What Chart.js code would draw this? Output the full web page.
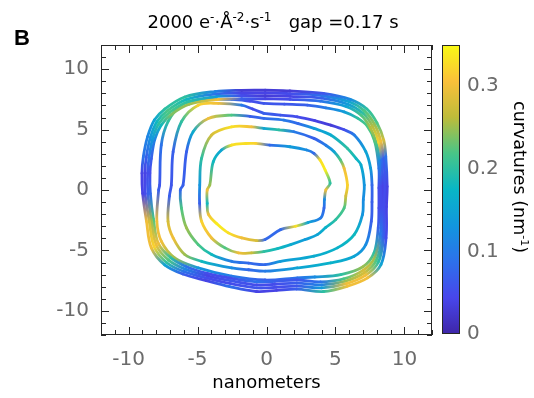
<!DOCTYPE html>
<html><head><meta charset="utf-8">
<script src="https://cdn.jsdelivr.net/npm/chart.js@4"></script>
<style>
html,body{margin:0;padding:0;background:#fff;}
#wrap{position:relative;width:534px;height:398px;overflow:hidden;}
#wrap canvas{position:absolute;left:0;top:0;}
</style></head><body>
<div id="wrap"><canvas id="main" width="534" height="398"></canvas><canvas id="cbar" width="534" height="398"></canvas></div>
<script>
// ---- data: contours as [x (nm), y (nm), curvature (nm^-1)] ----
const ring1 = [[-0.8,3.86,.32],[0.24,3.72,.08],[1.7,3.58,.14],[2.91,3.31,.12],[3.44,3.03,.08],[3.88,2.48,.33],[4.25,1.65,.34],[4.61,0.55,.2],[4.3,0.0,.3],[4.2,-0.8,.12],[4.17,-1.49,.08],[3.93,-2.31,.1],[3.0,-2.7,.15],[2.11,-3.0,.33],[1.02,-3.28,.08],[-0.1,-4.1,.08],[-0.73,-4.19,.28],[-1.8,-3.97,.3],[-2.77,-3.55,.33],[-3.6,-2.8,.34],[-4.22,-2.0,.3],[-4.3,-1.1,.18],[-4.3,0,.3],[-4.11,0.41,.25],[-3.86,2.34,.18],[-3.26,3.31,.15],[-2.53,3.72,.33],[-1.5,3.85,.33]];
const ring2 = [[-0.2,5.1,.15],[0.9,4.98,.2],[1.99,4.82,.1],[3.44,4.27,.07],[4.3,3.7,.1],[4.9,3.17,.15],[5.35,2.5,.22],[5.63,1.79,.3],[5.87,0.41,.32],[5.75,-0.5,.28],[5.63,-1.49,.22],[5.02,-2.45,.2],[4.3,-3.1,.17],[3.69,-3.69,.15],[2.8,-4.1,.14],[1.75,-4.52,.16],[0.8,-4.85,.18],[-0.2,-5.1,.2],[-1.1,-5.2,.27],[-2.04,-5.21,.3],[-3.01,-4.79,.22],[-3.98,-3.97,.3],[-4.71,-2.59,.32],[-4.85,-1.1,.07],[-4.84,0.41,.13],[-4.71,2.62,.2],[-3.98,4.55,.28],[-2.53,5.23,.33],[-1.07,5.23,.3]];
const ring3 = [[-0.2,5.93,.08],[1.26,5.79,.1],[2.3,5.5,.08],[3.44,5.1,.14],[4.66,4.55,.16],[5.87,3.44,.2],[6.5,2.6,.18],[6.85,2.07,.16],[7.09,0.41,.13],[7.02,-0.8,.12],[6.96,-2.04,.13],[6.36,-3.69,.18],[5.14,-4.79,.17],[3.44,-5.48,.16],[1.02,-5.9,.14],[-0.1,-6.17,.08],[-1.3,-6.05,.08],[-2.53,-5.9,.1],[-3.98,-5.34,.18],[-4.95,-4.52,.22],[-5.8,-3.14,.25],[-6.17,-1.49,.22],[-6.25,0,.08],[-6.05,0.41,.07],[-5.8,3.17,.07],[-5.32,4.82,.16],[-4.22,5.92,.3],[-2.53,6.2,.22],[-1.2,6.1,.07]];
const ring4 = [[-0.2,6.34,.07],[1.0,6.2,.06],[2.23,6.06,.05],[3.5,5.75,.04],[4.66,5.37,.03],[5.6,5.0,.05],[6.36,4.55,.1],[7.2,3.17,.15],[7.55,1.8,.14],[7.65,0.41,.08],[7.65,-1.0,.07],[7.6,-2.59,.07],[7.2,-4.52,.12],[6.36,-5.48,.15],[4.66,-6.03,.17],[2.23,-6.45,.15],[-0.1,-6.72,.1],[-1.3,-6.6,.08],[-2.53,-6.45,.12],[-4.71,-5.9,.18],[-5.93,-5.34,.25],[-6.77,-3.97,.3],[-7.14,-2.59,.28],[-7.04,-0.5,.07],[-6.9,0.41,.06],[-6.77,3.17,.07],[-6.17,5.65,.2],[-4.95,7.02,.32],[-3.5,7.17,.3],[-1.8,7.02,.1],[-1.0,6.7,.05]];
const ring5 = [[-0.2,7.17,.06],[1.3,7.1,.06],[2.96,7.02,.07],[4.3,6.8,.1],[5.63,6.47,.14],[6.6,5.95,.2],[7.3,5.3,.22],[7.85,4.0,.22],[8.15,1.79,.09],[8.15,0.17,.05],[8.15,-1.5,.05],[8.1,-3.14,.07],[7.8,-5.2,.2],[7.0,-6.35,.25],[5.39,-7.0,.2],[3.5,-7.2,.12],[2.23,-7.27,.09],[-0.1,-7.45,.07],[-2.53,-7.13,.1],[-4.95,-6.45,.13],[-6.66,-5.62,.25],[-7.63,-4.24,.3],[-7.95,-2.59,.3],[-7.82,0,.07],[-7.75,0.41,.06],[-7.63,3.72,.09],[-7.14,5.65,.2],[-6.17,7.0,.25],[-4.95,7.45,.22],[-2.53,7.5,.09],[-1.2,7.35,.05]];
const ring6 = [[-0.1,7.55,.04],[1.7,7.5,.05],[3.9,7.35,.09],[5.8,6.9,.15],[6.9,6.15,.22],[7.55,5.1,.26],[8.0,3.8,.22],[8.2,2.4,.12],[8.3,0.3,.05],[8.3,-1.4,.05],[8.25,-3.7,.1],[7.8,-5.7,.25],[7.0,-6.65,.28],[5.6,-7.35,.22],[3.9,-7.6,.09],[2.2,-7.45,.06],[0.6,-7.55,.07],[-0.7,-7.6,.09],[-2.6,-7.3,.05],[-4.3,-6.9,.05],[-5.8,-6.35,.09],[-6.95,-5.6,.2],[-7.85,-4.4,.3],[-8.2,-2.4,.22],[-8.42,-0.3,.08],[-8.45,1.4,.05],[-8.35,2.6,.07],[-8.1,4.2,.11],[-7.65,5.35,.18],[-6.9,6.25,.24],[-5.6,7.1,.25],[-3.5,7.5,.3],[-1.8,7.55,.07]];
const ring7 = [[-0.1,7.8,.03],[1.7,7.75,.04],[4.0,7.6,.07],[5.9,7.1,.14],[7.0,6.35,.2],[7.7,5.25,.26],[8.15,3.9,.32],[8.35,2.5,.09],[8.45,0.3,.04],[8.45,-1.4,.05],[8.4,-3.8,.09],[7.95,-5.85,.22],[7.1,-6.85,.28],[5.7,-7.55,.25],[4.0,-7.85,.11],[2.2,-7.7,.07],[0.6,-7.8,.05],[-0.7,-7.85,.05],[-2.6,-7.5,.06],[-4.3,-7.1,.04],[-5.9,-6.55,.11],[-7.1,-5.8,.22],[-8.0,-4.55,.3],[-8.35,-2.5,.25],[-8.6,-0.3,.07],[-8.62,1.4,.05],[-8.52,2.65,.09],[-8.25,4.3,.14],[-7.8,5.5,.2],[-7.05,6.4,.22],[-5.7,7.3,.2],[-3.6,7.75,.14],[-1.8,7.82,.05]];
const ring8 = [[-0.1,8.05,.04],[1.7,7.98,.05],[4.1,7.8,.09],[6.0,7.3,.15],[7.1,6.55,.22],[7.85,5.4,.25],[8.3,4.0,.3],[8.5,2.6,.07],[8.6,0.3,.05],[8.55,-1.4,.05],[8.5,-3.9,.07],[8.1,-6.0,.2],[7.2,-7.05,.3],[5.8,-7.75,.3],[4.0,-8.1,.14],[2.2,-7.95,.06],[0.7,-8.05,.05],[-0.7,-8.1,.06],[-2.6,-7.75,.05],[-4.3,-7.3,.05],[-6.0,-6.75,.09],[-7.25,-6.0,.2],[-8.15,-4.7,.32],[-8.5,-2.6,.28],[-8.8,-0.3,.05],[-8.82,1.4,.04],[-8.72,2.7,.07],[-8.42,4.35,.13],[-7.95,5.65,.18],[-7.2,6.55,.22],[-5.8,7.5,.18],[-3.7,7.95,.09],[-1.8,8.05,.04]];
const ring9 = [[-0.1,8.26,.03],[1.7,8.2,.03],[4.13,8.0,.06],[6.07,7.5,.12],[7.28,6.7,.2],[8.01,5.55,.22],[8.5,4.13,.28],[8.65,2.75,.09],[8.75,0.28,.04],[8.7,-1.38,.04],[8.67,-3.97,.05],[8.3,-6.17,.15],[7.33,-7.27,.3],[5.87,-7.96,.3],[4.13,-8.4,.2],[2.18,-8.2,.07],[0.73,-8.3,.04],[-0.73,-8.4,.04],[-2.67,-8.0,.09],[-4.37,-7.5,.04],[-6.07,-6.95,.07],[-7.38,-6.2,.15],[-8.35,-4.79,.3],[-8.7,-2.59,.3],[-8.98,-0.28,.04],[-9.03,1.38,.04],[-8.93,2.75,.09],[-8.62,4.41,.11],[-8.13,5.79,.15],[-7.38,6.7,.2],[-5.93,7.7,.2],[-3.74,8.15,.11],[-1.8,8.25,.03]];
const rings = [ring9, ring8, ring7, ring6, ring5, ring4, ring3, ring2, ring1];

const xTickValues = [-10, -5, 0, 5, 10];
const yTickValues = [-10, -5, 0, 5, 10];
const cbTickValues = [0, 0.1, 0.2, 0.3];
const axisRange = [-12, 12];
const cbRange = [0, 0.35];

// ---- parula-like colormap ----
const parulaStops = [[62,38,168],[72,70,235],[45,112,235],[18,150,222],[8,182,198],[72,198,135],[190,188,58],[250,192,58],[249,250,20]];
function parula(k){
  let t = (k - cbRange[0])/(cbRange[1]-cbRange[0]);
  t = Math.max(0, Math.min(1, t));
  const f = t*(parulaStops.length-1), i = Math.min(Math.floor(f), parulaStops.length-2), r = f-i;
  const a = parulaStops[i], b = parulaStops[i+1];
  return 'rgb(' + a.map((v,j)=>Math.round(v+(b[j]-v)*r)).join(',') + ')';
}

const tickFont = {family:'"DejaVu Sans"', size:20, weight:'normal'};
const tickColor = '#6b6b6b';
const boxColor = '#262626';

function drawRuns(ctx, runs, cx, baseY, size, supSize, rise){
  let w = 0;
  runs.forEach(r => { ctx.font = (r.sup ? supSize : size) + 'px "DejaVu Sans"'; r.w = ctx.measureText(r.t).width; w += r.w; });
  let x = cx - w/2;
  ctx.textAlign = 'left'; ctx.textBaseline = 'alphabetic';
  runs.forEach(r => { ctx.font = (r.sup ? supSize : size) + 'px "DejaVu Sans"'; ctx.fillText(r.t, x, baseY - (r.sup ? rise : 0)); x += r.w; });
}

const mainCanvas = document.getElementById('main');
const mctx = mainCanvas.getContext('2d');

const datasets = rings.map(ring => ({
  data: ring.concat([ring[0]]).map(p => ({x:p[0], y:p[1]})),
  showLine: true,
  borderWidth: 2.8,
  pointRadius: 0,
  tension: 0.35,
  borderCapStyle: 'round',
  borderJoinStyle: 'round',
  borderColor: parula(ring[0][2]),
  segment: {
    borderColor: (s) => {
      const n = ring.length;
      const k0 = ring[s.p0DataIndex % n][2], k1 = ring[s.p1DataIndex % n][2];
      const g = mctx.createLinearGradient(s.p0.x, s.p0.y, s.p1.x, s.p1.y);
      g.addColorStop(0, parula(k0)); g.addColorStop(1, parula(k1));
      return g;
    }
  }
}));

const boxPlugin = {
  id: 'box',
  afterDatasetsDraw(chart){
    const {ctx, chartArea:a, scales:{x, y}} = chart;
    ctx.save();
    ctx.strokeStyle = boxColor; ctx.lineWidth = 1;
    ctx.strokeRect(a.left+0.5, a.top+0.5, a.right-a.left-1, a.bottom-a.top-1);
    ctx.beginPath();
    for (let v = axisRange[0]; v <= axisRange[1]; v++){
      const lenX = xTickValues.includes(v) ? 8 : 5;
      const lenY = yTickValues.includes(v) ? 8 : 5;
      const px = Math.round(x.getPixelForValue(v)) + 0.5;
      ctx.moveTo(px, a.bottom); ctx.lineTo(px, a.bottom - lenX);
      ctx.moveTo(px, a.top); ctx.lineTo(px, a.top + lenX);
      const py = Math.round(y.getPixelForValue(v)) + 0.5;
      ctx.moveTo(a.left, py); ctx.lineTo(a.left + lenY, py);
      ctx.moveTo(a.right, py); ctx.lineTo(a.right - lenY, py);
    }
    ctx.stroke();
    // panel letter and title
    ctx.fillStyle = '#000';
    ctx.font = 'bold 22px "Liberation Sans"';
    ctx.textAlign = 'left'; ctx.textBaseline = 'alphabetic';
    ctx.fillText('B', 14, 45);
    drawRuns(ctx, [{t:'2000 e'},{t:'-',sup:true},{t:'·Å'},{t:'-2',sup:true},{t:'·s'},{t:'-1',sup:true},{t:'   gap =0.17 s'}], 273, 28, 18, 12, 7);
    ctx.restore();
  }
};

new Chart(mainCanvas, {
  type: 'scatter',
  data: {datasets},
  options: {
    responsive: false, animation: false, events: [],
    layout: {padding: {left: 0, right: 102, top: 45, bottom: 0}},
    plugins: {legend: {display:false}, tooltip: {enabled:false}},
    scales: {
      x: {
        type: 'linear', position: 'bottom', min: axisRange[0], max: axisRange[1],
        grid: {display:false, drawTicks:false}, border: {display:false},
        afterBuildTicks: s => { s.ticks = xTickValues.map(v => ({value:v})); },
        ticks: {font: tickFont, color: tickColor, padding: 13, maxRotation: 0},
        title: {display: true, text: 'nanometers', color: '#000', font: {family:'"DejaVu Sans"', size:18}, padding: {top:0, bottom:4}},
        afterFit: s => { s.height = 63; }
      },
      y: {
        type: 'linear', position: 'left', min: axisRange[0], max: axisRange[1],
        grid: {display:false, drawTicks:false}, border: {display:false},
        afterBuildTicks: s => { s.ticks = yTickValues.map(v => ({value:v})); },
        ticks: {font: tickFont, color: tickColor, padding: 12},
        afterFit: s => { s.width = 101; }
      }
    }
  },
  plugins: [boxPlugin]
});

const cbPlugin = {
  id: 'cb',
  beforeDatasetsDraw(chart){
    const {ctx, chartArea:a, scales:{y}} = chart;
    ctx.save();
    const y0 = y.getPixelForValue(cbRange[0]), y1 = y.getPixelForValue(cbRange[1]);
    const g = ctx.createLinearGradient(0, y0, 0, y1);
    for (let i = 0; i <= 40; i++){ const k = cbRange[0] + (cbRange[1]-cbRange[0])*i/40; g.addColorStop(i/40, parula(k)); }
    ctx.fillStyle = g;
    ctx.fillRect(a.left, a.top, a.right-a.left, a.bottom-a.top);
    ctx.strokeStyle = boxColor; ctx.lineWidth = 1;
    ctx.strokeRect(a.left+0.5, a.top+0.5, a.right-a.left-1, a.bottom-a.top-1);
    // colorbar label
    ctx.fillStyle = '#000';
    ctx.translate(514, 177);
    ctx.rotate(Math.PI/2);
    drawRuns(ctx, [{t:'curvatures (nm'},{t:'-1',sup:true},{t:')'}], 0, 0, 17.5, 11, 7);
    ctx.restore();
  }
};

new Chart(document.getElementById('cbar'), {
  type: 'scatter',
  data: {datasets: [{data: [], pointRadius: 0}]},
  options: {
    responsive: false, animation: false, events: [],
    layout: {padding: {left: 442, right: 0, top: 45, bottom: 64}},
    plugins: {legend: {display:false}, tooltip: {enabled:false}},
    scales: {
      x: {display: false, min: 0, max: 1},
      y: {
        type: 'linear', position: 'right', min: cbRange[0], max: cbRange[1],
        grid: {display:false, drawTicks:false}, border: {display:false},
        afterBuildTicks: s => { s.ticks = cbTickValues.map(v => ({value:v})); },
        ticks: {font: tickFont, color: tickColor, padding: 7},
        afterFit: s => { s.width = 74; }
      }
    }
  },
  plugins: [cbPlugin]
});
</script>
</body></html>
